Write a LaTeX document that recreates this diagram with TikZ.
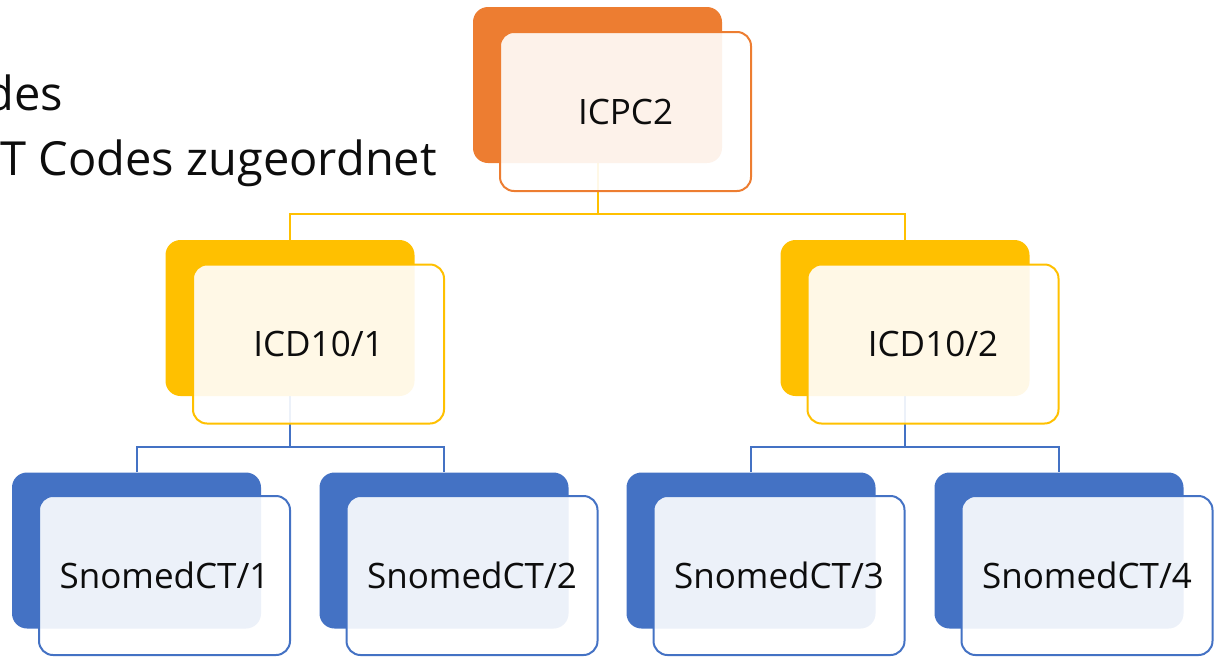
\documentclass[tikz,border=0pt]{standalone}
\usepackage{fontspec}
\setmainfont{Open Sans}
\pgfdeclarelayer{bg}
\pgfsetlayers{bg,main}
\definecolor{cOrange}{HTML}{ED7D31}
\definecolor{cYellow}{HTML}{FFC000}
\definecolor{cBlue}{HTML}{4472C4}
\definecolor{cText}{HTML}{0D0D0D}
\tikzset{
  backbox/.style={draw=none, fill=#1, rounded corners=15pt, minimum width=249pt, minimum height=156pt, inner sep=0pt},
  frontbox/.style={draw=#1, line width=2pt, fill=white, fill opacity=0.9, text opacity=1, rounded corners=14pt,
    minimum width=251pt, minimum height=159pt, inner sep=0pt, text=cText, font=\fontsize{35}{40}\selectfont},
  conn/.style={draw=#1, line width=2pt},
  titletext/.style={anchor=base east, inner sep=0pt, text=cText, font=\fontsize{47}{56}\selectfont}
}
\begin{document}
\begin{tikzpicture}[x=1pt, y=-1pt]
\useasboundingbox (0,0) rectangle (1218,656);
\clip (0,0) rectangle (1218,656);
% title text (cut off at the left edge)
\node[titletext] (t1) at (63,110) {des};
\node[titletext] (t2) at (437,175) {T Codes zugeordnet};
% level 0
\node[backbox=cOrange] (p0b) at (597.5,85) {};
\node[frontbox=cOrange] (p0) at (625.5,111.5) {ICPC2};
% level 1
\node[backbox=cYellow] (c1b) at (290,318) {};
\node[frontbox=cYellow] (c1) at (318.5,344) {ICD10/1};
\node[backbox=cYellow] (c2b) at (905,318) {};
\node[frontbox=cYellow] (c2) at (933,344) {ICD10/2};
% level 2
\node[backbox=cBlue] (s1b) at (136.5,550.5) {};
\node[frontbox=cBlue] (s1) at (164.5,575.5) {SnomedCT/1};
\node[backbox=cBlue] (s2b) at (444,550.5) {};
\node[frontbox=cBlue] (s2) at (472,575.5) {SnomedCT/2};
\node[backbox=cBlue] (s3b) at (751,550.5) {};
\node[frontbox=cBlue] (s3) at (779,575.5) {SnomedCT/3};
\node[backbox=cBlue] (s4b) at (1059,550.5) {};
\node[frontbox=cBlue] (s4) at (1087,575.5) {SnomedCT/4};
% junctions
\coordinate (j0) at (597.5,214);
\coordinate (j1) at (290,447);
\coordinate (j2) at (905,447);
\begin{pgfonlayer}{bg}
\draw[conn=cYellow] (p0b.south) -- (j0) -| (c1b.north);
\draw[conn=cYellow] (j0) -| (c2b.north);
\draw[conn=cBlue] (c1b.south) -- (j1) -| (s1b.north);
\draw[conn=cBlue] (j1) -| (s2b.north);
\draw[conn=cBlue] (c2b.south) -- (j2) -| (s3b.north);
\draw[conn=cBlue] (j2) -| (s4b.north);
\end{pgfonlayer}
\end{tikzpicture}
\end{document}
